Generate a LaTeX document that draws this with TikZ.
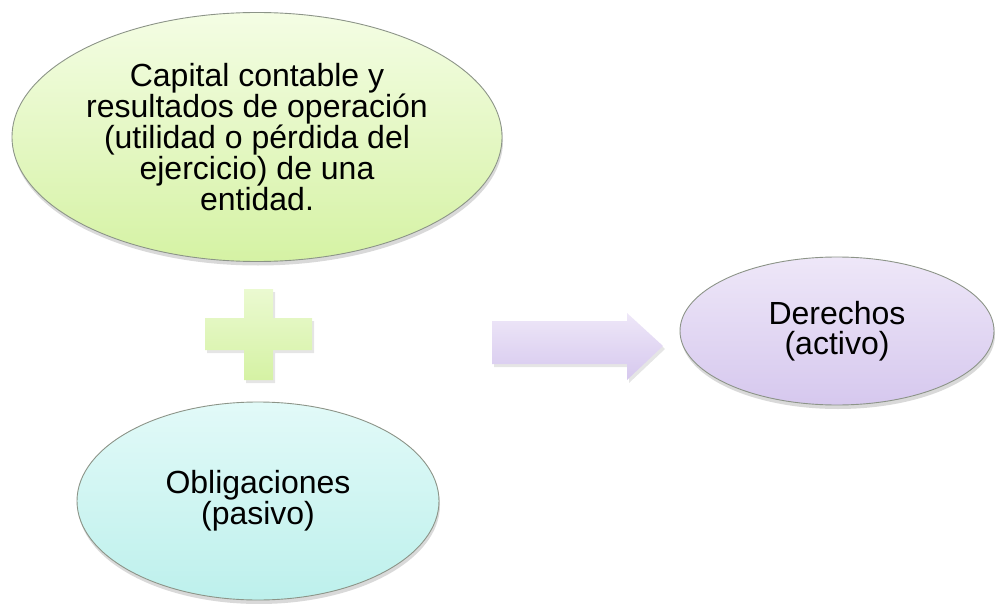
\documentclass[tikz,border=0pt]{standalone}
\usepackage{fontspec}
\setmainfont{Liberation Sans}
\usetikzlibrary{shapes.geometric,shadows}
\definecolor{edge_gray}{HTML}{8C9488}
\definecolor{green_top}{HTML}{F4FDE4}
\definecolor{green_bot}{HTML}{D5F2A4}
\definecolor{teal_top}{HTML}{E2FAF8}
\definecolor{teal_bot}{HTML}{BDF0EC}
\definecolor{lila_top}{HTML}{EEE7F8}
\definecolor{lila_bot}{HTML}{D6C8EE}
\tikzstyle{node_bubble} = [ellipse, draw=edge_gray, line width=0.9pt, inner sep=0pt, align=center,
  font=\fontsize{32}{29.5}\selectfont,
  drop shadow={shadow xshift=1pt, shadow yshift=-4pt, opacity=0.15, fill=black}]
\tikzstyle{shape_flat} = [drop shadow={shadow xshift=2pt, shadow yshift=-3pt, opacity=0.1, fill=black}]

\begin{document}
\begin{tikzpicture}[x=1pt,y=-1pt]
\useasboundingbox (0,0) rectangle (995,604);
\def\px{258}
\def\py{334}
\node (C) at (257,137) [node_bubble, minimum width=490, minimum height=249, top color=green_top, bottom color=green_bot]
  {Capital contable y\\resultados de operación\\(utilidad o pérdida del\\ejercicio) de una\\entidad.};
\node (O) at (258,501) [node_bubble, minimum width=362, minimum height=198, top color=teal_top, bottom color=teal_bot]
  {Obligaciones\\(pasivo)};
\node (D) at (837,331) [node_bubble, minimum width=314, minimum height=148, top color=lila_top, bottom color=lila_bot]
  {Derechos\\(activo)};

\path[shape_flat, top color=green_top!70!green_bot, bottom color=green_bot]
  (\px-14,\py-45) -- (\px+15,\py-45) -- (\px+15,\py-16) -- (\px+54,\py-16) -- (\px+54,\py+16)
  -- (\px+15,\py+16) -- (\px+15,\py+46) -- (\px-14,\py+46) -- (\px-14,\py+16) -- (\px-53,\py+16)
  -- (\px-53,\py-16) -- (\px-14,\py-16) -- cycle;
\path[shape_flat, top color=lila_top, bottom color=lila_bot]
  (492,321) -- (627,321) -- (627,313) -- (663,346) -- (627,380) -- (627,364) -- (492,364) -- cycle;
\end{tikzpicture}
\end{document}
